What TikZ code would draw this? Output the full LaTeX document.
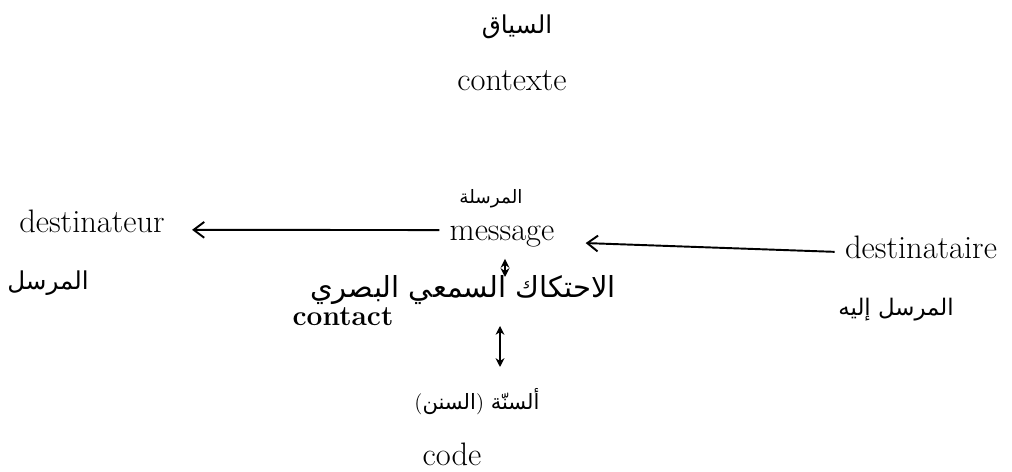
\documentclass[tikz,border=0pt]{standalone}
\usepackage{fontspec}
\newfontfamily\arabicfont[Script=Arabic]{DejaVu Sans}
\TeXXeTstate=1
\usetikzlibrary{arrows.meta,calc}
\begin{document}
\begin{tikzpicture}[x=0.02cm,y=-0.02cm,
  lat/.style={inner sep=0pt, anchor=base, font=\fontsize{18.5}{21}\selectfont},
  ar/.style={inner sep=0pt, font=\arabicfont\fontsize{14}{16}\selectfont},
  arr/.style={line width=1.1pt, -{Straight Barb[length=6pt,width=9pt,line width=1.1pt]}},
  dbl/.style={line width=1pt, {Stealth[length=5pt,width=5pt]}-{Stealth[length=5pt,width=5pt]}}]
\useasboundingbox (0,0) rectangle (1012,472);
\node[ar] (siyaq) at (517,27) {\beginR السياق\endR};
\node[lat] (contexte) at (512,91) {contexte};
\node[ar,font=\arabicfont\fontsize{10.5}{13}\selectfont] (mursala) at (491,199) {\beginR المرسلة\endR};
\node[lat] (message) at (502,241) {message};
\node[lat] (sender) at (92,233) {destinateur};
\node[ar] (mursil) at (48,283) {\beginR المرسل\endR};
\node[lat] (receiver) at (921,259) {destinataire};
\node[ar,font=\arabicfont\fontsize{13}{15}\selectfont] (mursililayh) at (896,310) {\beginR المرسل إليه\endR};
\node[ar,font=\arabicfont\fontsize{16.5}{19}\selectfont] (ihtikak) at (463,290) {\beginR الاحتكاك السمعي البصري\endR};
\node[lat,font=\bfseries\fontsize{16}{20}\selectfont] (contact) at (343,326) {contact};
\node[ar,font=\arabicfont\fontsize{12}{14}\selectfont] (sanan) at (477,402) {\beginR ألسنّة \textrm{)}السنن\textrm{(}\endR};
\node[lat] (code) at (452,466) {code};
\draw[arr] ($(message.west)+(-10,-7)$) -- ($(sender.east)+(27,8)$);
\draw[arr] ($(receiver.west)+(-10,4)$) -- ($(message.east)+(31,6)$);
\draw[dbl] ($(message.south)+(3,11)$) -- ($(ihtikak.center)+(42,-13)$);
\draw[dbl] ($(ihtikak.center)+(37,36)$) -- ($(sanan.center)+(23,-35)$);
\end{tikzpicture}
\end{document}
